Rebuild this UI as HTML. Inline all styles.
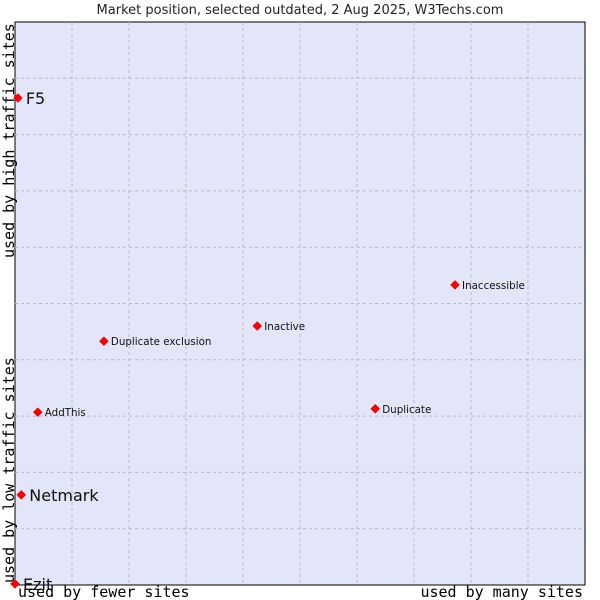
<!DOCTYPE html>
<html><head><meta charset="utf-8"><style>
body{margin:0;background:#fff;}
svg{display:block;}
</style></head><body>
<svg id="chart" width="600" height="600" xmlns="http://www.w3.org/2000/svg">
<text x="300" y="14" text-anchor="middle" font-family="DejaVu Sans, sans-serif" font-size="13" fill="#222">Market position, selected outdated, 2 Aug 2025, W3Techs.com</text>
<rect x="15" y="22" width="570" height="563" fill="#e3e5f8" stroke="#000" stroke-width="1"/>
<g id="grid"></g>
<g id="pts"></g>
<text transform="translate(14,258) rotate(-90)" font-family="DejaVu Sans Mono, monospace" font-size="15" fill="#000">used by high traffic sites</text>
<text transform="translate(14,583) rotate(-90)" font-family="DejaVu Sans Mono, monospace" font-size="15" fill="#000">used by low traffic sites</text>
<text x="18" y="597" font-family="DejaVu Sans Mono, monospace" font-size="15" fill="#000">used by fewer sites</text>
<text x="583" y="597" text-anchor="end" font-family="DejaVu Sans Mono, monospace" font-size="15" fill="#000">used by many sites</text>
</svg>
<script>
const names = ["F5","Netmark","Ezit","AddThis","Duplicate exclusion","Inactive","Duplicate","Inaccessible"];
const xValues = [0.5,1.1,0,4.0,15.6,42.5,63.2,77.2];
const yValues = [86.5,16,0.2,30.7,43.3,46.0,31.3,53.3];
const bigLabel = [true,true,true,false,false,false,false,false];
const NS="http://www.w3.org/2000/svg";
const L=15,R=585,T=22,B=585;
const sx=v=>L+(R-L)*v/100, sy=v=>B-(B-T)*v/100;
const grid=document.getElementById('grid');
for(let i=1;i<10;i++){
  const v=document.createElementNS(NS,'line');
  v.setAttribute('x1',sx(i*10));v.setAttribute('x2',sx(i*10));v.setAttribute('y1',T);v.setAttribute('y2',B);
  v.setAttribute('stroke','#bbb');v.setAttribute('stroke-dasharray','3,3');
  
  
  grid.appendChild(v);
  const h=document.createElementNS(NS,'line');
  h.setAttribute('y1',sy(i*10));h.setAttribute('y2',sy(i*10));h.setAttribute('x1',L);h.setAttribute('x2',R);
  h.setAttribute('stroke','#bbb');h.setAttribute('stroke-dasharray','3,3');
  
  
  grid.appendChild(h);
}
const pts=document.getElementById('pts');
names.forEach((n,i)=>{
  const x=sx(xValues[i]),y=sy(yValues[i]);
  const d=document.createElementNS(NS,'path');
  d.setAttribute('d',`M${x-4.5},${y}L${x},${y-4.5}L${x+4.5},${y}L${x},${y+4.5}Z`);
  d.setAttribute('fill','#f00');d.setAttribute('stroke','#c00');d.setAttribute('stroke-width','0.5');
  
  
  pts.appendChild(d);
  const t=document.createElementNS(NS,'text');
  t.setAttribute('x',x+(bigLabel[i]?8:7));t.setAttribute('y',y+(bigLabel[i]?6:4));
  t.setAttribute('font-family','DejaVu Sans, sans-serif');
  t.setAttribute('font-size',bigLabel[i]?'16':'10.3');t.setAttribute('fill','#111');
  t.textContent=n;
  
  
  pts.appendChild(t);
});
</script>
</body></html>
